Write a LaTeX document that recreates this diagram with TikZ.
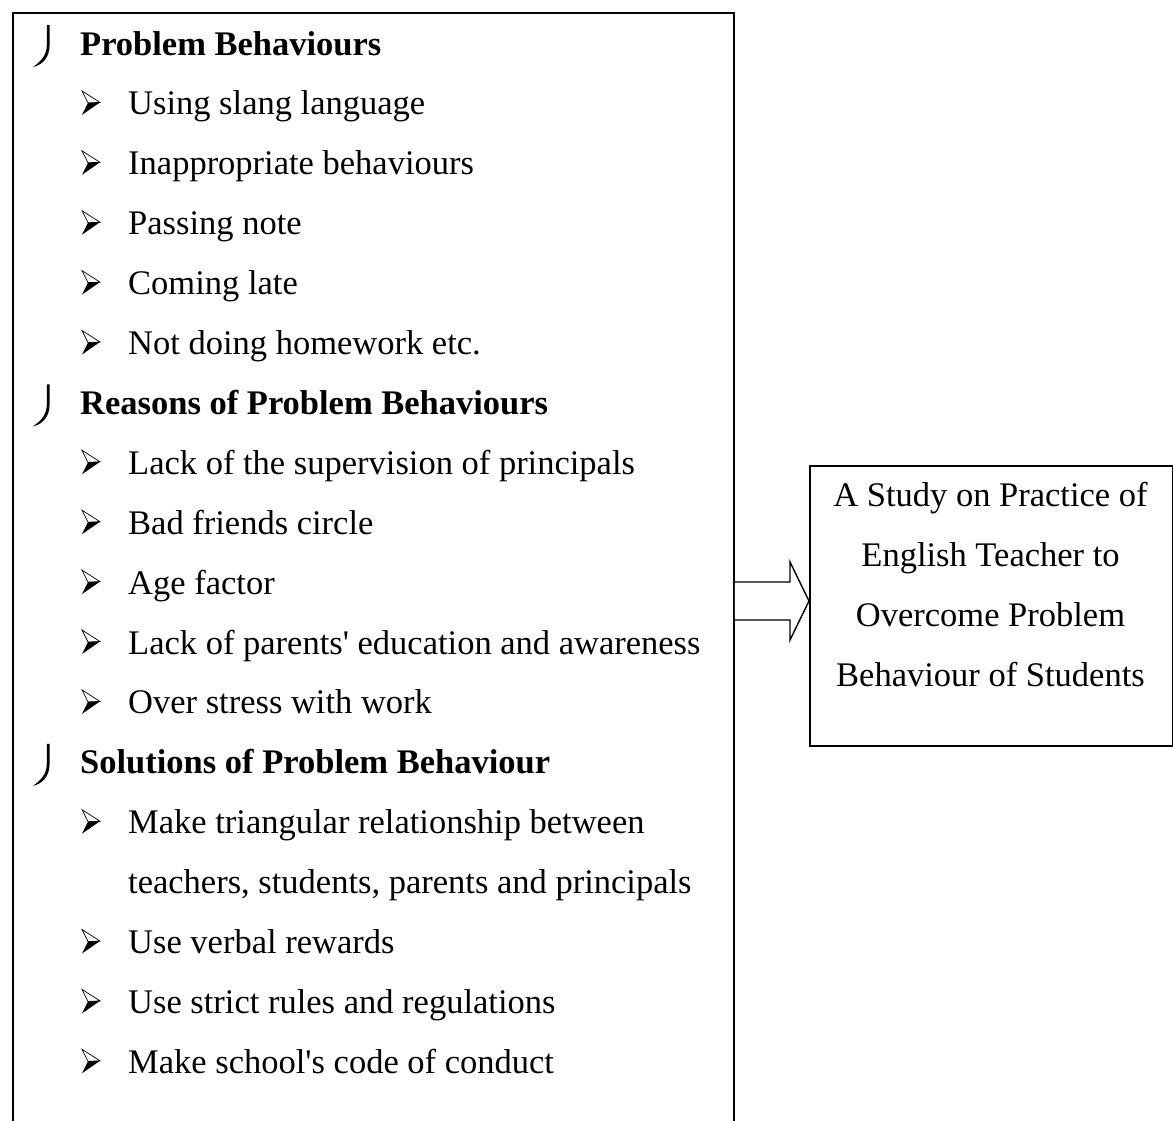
\documentclass[tikz,border=0pt]{standalone}
\usepackage{fontspec}
\setmainfont{Liberation Serif}[Ligatures=TeXOff]
\begin{document}
\begin{tikzpicture}[x=1pt,y=-1pt,
  item/.style={anchor=base west, inner sep=0pt, font=\fontsize{34.5}{40}\selectfont},
  head/.style={anchor=base west, inner sep=0pt, font=\fontsize{34.5}{40}\selectfont\bfseries},
  ctext/.style={anchor=base, inner sep=0pt, font=\fontsize{34.5}{40}\selectfont},
  frame/.style={draw, line width=1.8pt, inner sep=0pt},
  blockarrow/.style={draw, line width=1.4pt, fill=white, line join=miter}]
\useasboundingbox (0,0) rectangle (1173,1120);
\clip (0,0) rectangle (1173,1120);

% left frame (bottom edge runs off the page)
\node[frame, anchor=north west, minimum width=721, minimum height=1130] (listbox) at (12,12) {};

% right box
\node[frame, anchor=north west, minimum width=363, minimum height=280] (study) at (809,465) {};
\node[ctext] (s1) at (990.5,506) {A Study on Practice of};
\node[ctext] (s2) at (990.5,566) {English Teacher to};
\node[ctext] (s3) at (990.5,626) {Overcome Problem};
\node[ctext] (s4) at (990.5,686) {Behaviour of Students};

% block arrow from the list box to the study box
\coordinate (a0) at (listbox.east |- 0,582);
\coordinate (a1) at (790,582);
\coordinate (a2) at (790,562);
\coordinate (tip) at (study.west |- 0,601);
\coordinate (a4) at (790,640);
\coordinate (a5) at (790,620);
\coordinate (a6) at (listbox.east |- 0,620);
\draw[blockarrow] (a0) -- (a1) -- (a2) -- (tip) -- (a4) -- (a5) -- (a6);

% heading marks and bullets
\newcommand\headmark[1]{%
  \fill (46.8,#1-30) -- (49.6,#1-30) -- (49.6,#1-10)
    .. controls (49.6,#1+3) and (42,#1+10) .. (33,#1+12)
    .. controls (40,#1+7) and (46.8,#1+1) .. (46.8,#1-10) -- cycle;}
\newcommand\arrowbullet[1]{%
  \draw[line width=0.7pt, line join=miter, fill=white] (82,#1-24) -- (100,#1-12.5) -- (88,#1-12) -- cycle;
  \fill (88,#1-12) -- (100,#1-12.5) -- (82,#1) -- cycle;}

\headmark{55}
\node[head] (h1) at (80,55) {Problem Behaviours};
\foreach \k/\t in {1/Using slang language, 2/Inappropriate behaviours, 3/Passing note, 4/Coming late, 5/Not doing homework etc.}{
  \pgfmathsetmacro\b{55+59.9*\k}
  \arrowbullet{\b}
  \node[item] (i\k) at (128,\b) {\t};
}

\headmark{414.4}
\node[head] (h2) at (80,414.4) {Reasons of Problem Behaviours};
\foreach \k/\t in {7/Lack of the supervision of principals, 8/Bad friends circle, 9/Age factor, 10/Lack of parents' education and awareness, 11/Over stress with work}{
  \pgfmathsetmacro\b{55+59.9*\k}
  \arrowbullet{\b}
  \node[item] (i\k) at (128,\b) {\t};
}

\headmark{773.8}
\node[head] (h3) at (80,773.8) {Solutions of Problem Behaviour};
\foreach \k/\t in {13/Make triangular relationship between, 15/Use verbal rewards, 16/Use strict rules and regulations, 17/Make school's code of conduct}{
  \pgfmathsetmacro\b{55+59.9*\k}
  \arrowbullet{\b}
  \node[item] (i\k) at (128,\b) {\t};
}
\node[item] (i14) at (128,893.6) {teachers, students, parents and principals};
\end{tikzpicture}
\end{document}
